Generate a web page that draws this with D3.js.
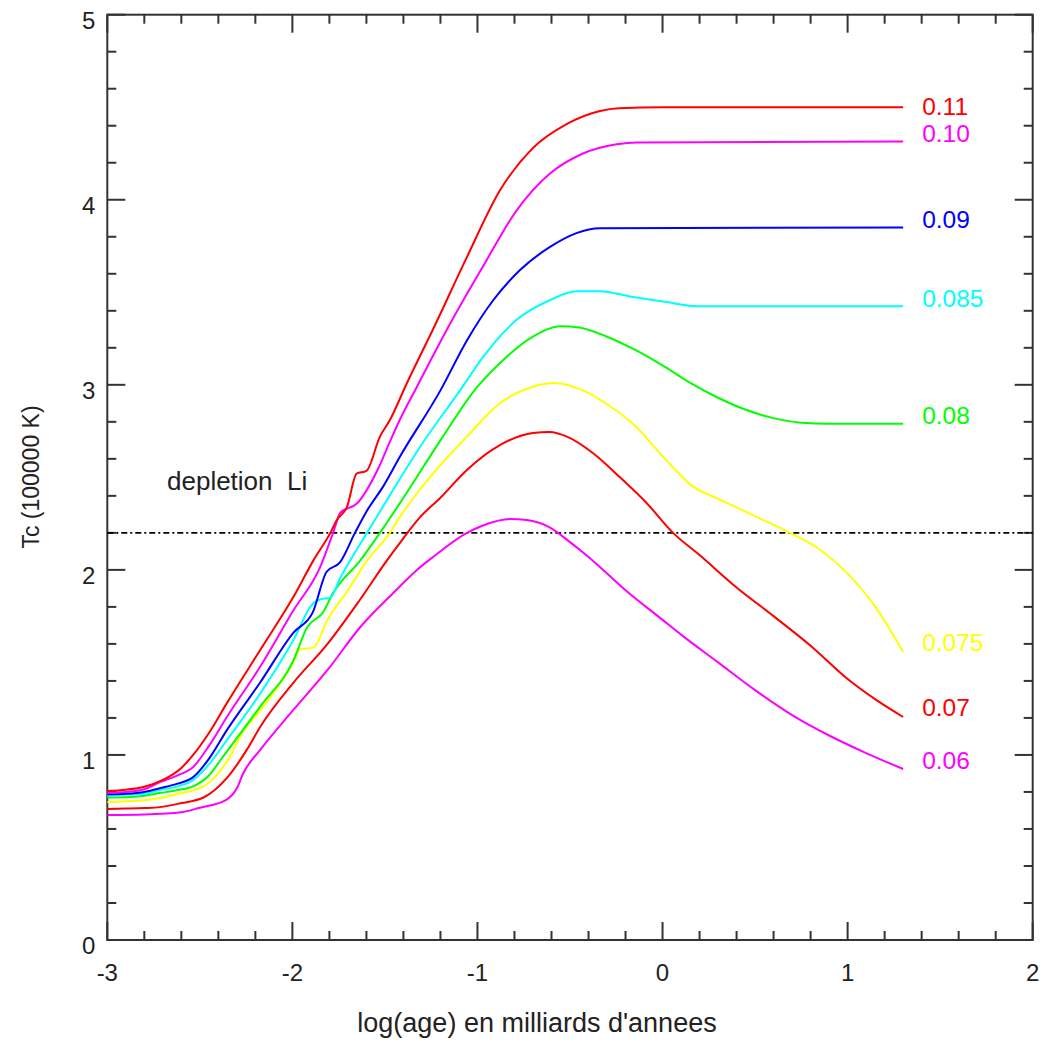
<!DOCTYPE html>
<html><head><meta charset="utf-8">
<script src="https://cdn.jsdelivr.net/npm/d3@7"></script>
<style>
html,body{margin:0;padding:0;background:#fff;}
svg text{font-family:"Liberation Sans",Arial,Helvetica,sans-serif;}
</style></head>
<body>
<svg id="chart" width="1044" height="1043"></svg>
<script>
// ---- data ----
const masses = ["0.11","0.10","0.09","0.085","0.08","0.075","0.07","0.06"];
const seriesColors = ["#ff0000","#ff00ff","#0000ff","#00ffff","#00ff00","#ffff00","#ff0000","#ff00ff"];
const xTickValues = [-3,-2,-1,0,1,2];
const yTickValues = [0,1,2,3,4,5];
const depletionLevel = 2.2;
const labelY = [4.505,4.36,3.895,3.468,2.836,1.61,1.259,0.972];

const m011 = [[-3,0.805],[-2.9,0.812],[-2.8,0.828],[-2.7,0.865],[-2.6,0.93],[-2.536,1.0],[-2.45,1.12],[-2.354,1.28],[-2.174,1.567],[-1.995,1.853],[-1.887,2.05],[-1.795,2.2],[-1.76,2.27],[-1.705,2.34],[-1.653,2.52],[-1.60,2.535],[-1.527,2.72],[-1.473,2.81],[-1.381,3.01],[-1.24,3.30],[-1.057,3.69],[-0.879,4.05],[-0.70,4.28],[-0.516,4.41],[-0.338,4.48],[-0.236,4.495],[0,4.50],[1.3,4.50]];
const m010 = [[-3,0.795],[-2.9,0.80],[-2.8,0.815],[-2.716,0.853],[-2.62,0.89],[-2.536,0.935],[-2.45,1.05],[-2.354,1.205],[-2.175,1.475],[-1.995,1.78],[-1.85,2.015],[-1.78,2.2],[-1.74,2.31],[-1.65,2.36],[-1.54,2.54],[-1.47,2.70],[-1.42,2.81],[-1.327,2.99],[-1.148,3.33],[-0.97,3.64],[-0.79,3.94],[-0.61,4.14],[-0.43,4.25],[-0.247,4.30],[-0.14,4.31],[1.3,4.315]];
const m009 = [[-3,0.787],[-2.9,0.79],[-2.8,0.80],[-2.716,0.82],[-2.62,0.845],[-2.536,0.88],[-2.45,0.98],[-2.354,1.134],[-2.175,1.39],[-1.995,1.66],[-1.89,1.77],[-1.815,1.99],[-1.743,2.04],[-1.662,2.2],[-1.597,2.32],[-1.51,2.45],[-1.42,2.61],[-1.2,2.97],[-1.057,3.24],[-0.915,3.457],[-0.77,3.62],[-0.61,3.744],[-0.465,3.82],[-0.34,3.846],[1.3,3.85]];
const m0085 = [[-3,0.78],[-2.9,0.785],[-2.8,0.79],[-2.716,0.81],[-2.62,0.83],[-2.536,0.864],[-2.45,0.95],[-2.354,1.08],[-2.175,1.33],[-1.995,1.62],[-1.887,1.82],[-1.85,1.84],[-1.795,1.85],[-1.74,1.96],[-1.688,2.05],[-1.597,2.2],[-1.445,2.45],[-1.30,2.68],[-1.094,2.97],[-0.97,3.15],[-0.79,3.35],[-0.61,3.457],[-0.465,3.506],[-0.34,3.506],[-0.16,3.474],[0.02,3.447],[0.185,3.425],[1.3,3.425]];
const m008 = [[-3,0.77],[-2.9,0.772],[-2.8,0.78],[-2.716,0.794],[-2.62,0.81],[-2.536,0.83],[-2.45,0.89],[-2.39,0.97],[-2.175,1.26],[-1.995,1.51],[-1.92,1.69],[-1.835,1.77],[-1.78,1.875],[-1.634,2.05],[-1.527,2.2],[-1.40,2.39],[-1.20,2.70],[-1.0,2.99],[-0.879,3.117],[-0.70,3.26],[-0.55,3.317],[-0.45,3.31],[-0.3,3.26],[-0.15,3.19],[0,3.105],[0.15,3.01],[0.3,2.93],[0.45,2.865],[0.6,2.82],[0.75,2.795],[0.9,2.79],[1.3,2.79]];
const m0075 = [[-3,0.745],[-2.9,0.75],[-2.8,0.755],[-2.716,0.767],[-2.62,0.79],[-2.48,0.83],[-2.35,0.97],[-2.27,1.12],[-2.175,1.24],[-1.995,1.50],[-1.96,1.57],[-1.887,1.58],[-1.81,1.73],[-1.70,1.89],[-1.597,2.05],[-1.473,2.2],[-1.42,2.285],[-1.24,2.52],[-1.057,2.72],[-0.879,2.90],[-0.70,2.99],[-0.59,3.01],[-0.43,2.97],[-0.3,2.895],[-0.15,2.78],[0,2.615],[0.165,2.45],[0.31,2.38],[0.5,2.29],[0.69,2.20],[0.85,2.11],[1.0,1.98],[1.15,1.80],[1.3,1.556]];
const m007 = [[-3,0.708],[-2.9,0.71],[-2.8,0.713],[-2.716,0.718],[-2.6,0.74],[-2.48,0.77],[-2.35,0.88],[-2.245,1.03],[-2.175,1.15],[-1.995,1.39],[-1.81,1.60],[-1.634,1.84],[-1.49,2.05],[-1.42,2.145],[-1.31,2.285],[-1.20,2.39],[-1.057,2.54],[-0.879,2.674],[-0.70,2.74],[-0.61,2.745],[-0.516,2.72],[-0.375,2.63],[-0.23,2.50],[-0.085,2.36],[0.057,2.20],[0.2,2.08],[0.4,1.905],[0.6,1.75],[0.8,1.59],[1.0,1.41],[1.15,1.30],[1.3,1.205]];
const m006 = [[-3,0.675],[-2.8,0.678],[-2.6,0.69],[-2.5,0.715],[-2.36,0.756],[-2.30,0.82],[-2.266,0.90],[-2.175,1.026],[-1.995,1.243],[-1.81,1.459],[-1.634,1.69],[-1.455,1.875],[-1.327,2.0],[-1.24,2.07],[-1.057,2.2],[-0.97,2.24],[-0.824,2.275],[-0.733,2.27],[-0.61,2.23],[-0.5,2.15],[-0.4,2.07],[-0.2,1.89],[0,1.73],[0.1,1.65],[0.3,1.50],[0.5,1.35],[0.7,1.215],[0.9,1.105],[1.1,1.01],[1.3,0.924]];
const allSeries = [m011,m010,m009,m0085,m008,m0075,m007,m006];

// ---- layout ----
const svg = d3.select("#chart");
const L = 107.3, R = 1032.7, T = 14.7, B = 940;
const x = d3.scaleLinear().domain([-3,2]).range([L,R]);
const y = d3.scaleLinear().domain([0,5]).range([B,T]);
const axisColor = "#333";

const minorX = d3.range(-3,2.0001,0.2).map(v=>+v.toFixed(1));
const minorY = d3.range(0,5.0001,0.2).map(v=>+v.toFixed(1));
function isMajor(v){return Math.abs(v-Math.round(v))<1e-6;}

const g = svg.append("g");
g.append("rect").attr("x",L).attr("y",T).attr("width",R-L).attr("height",B-T)
  .attr("fill","none").attr("stroke",axisColor).attr("stroke-width",2);

const tk = g.append("g").attr("stroke",axisColor).attr("stroke-width",2);
minorX.forEach(v=>{
  const len = isMajor(v)?18:9;
  tk.append("line").attr("x1",x(v)).attr("x2",x(v)).attr("y1",B).attr("y2",B-len);
  tk.append("line").attr("x1",x(v)).attr("x2",x(v)).attr("y1",T).attr("y2",T+len);
});
minorY.forEach(v=>{
  const len = isMajor(v)?18:9;
  tk.append("line").attr("y1",y(v)).attr("y2",y(v)).attr("x1",L).attr("x2",L+len);
  tk.append("line").attr("y1",y(v)).attr("y2",y(v)).attr("x1",R).attr("x2",R-len);
});

// tick labels
const tickFont = 24;
g.selectAll(".xl").data(xTickValues).join("text")
  .attr("x",d=>x(d)).attr("y",B+41).attr("text-anchor","middle")
  .attr("font-size",tickFont).attr("fill","#222").text(d=>d);
g.selectAll(".yl").data(yTickValues).join("text")
  .attr("x",L-12).attr("y",d=>y(d)+14).attr("text-anchor","end")
  .attr("font-size",tickFont).attr("fill","#222").text(d=>d);

// axis titles
svg.append("text").attr("x",537).attr("y",1032).attr("text-anchor","middle")
  .attr("font-size",27).attr("fill","#222").text("log(age) en milliards d'annees");
svg.append("text").attr("transform","translate(39,477) rotate(-90)").attr("text-anchor","middle")
  .attr("font-size",23).attr("fill","#222").text("Tc (100000 K)");

// depletion line
svg.append("line").attr("x1",x(-3)).attr("x2",x(2)).attr("y1",y(depletionLevel)).attr("y2",y(depletionLevel))
  .attr("stroke","#000").attr("stroke-width",1.6).attr("stroke-dasharray","6,3,2,3");
svg.append("text").attr("x",167).attr("y",y(depletionLevel)-43).attr("font-size",26)
  .attr("fill","#222").style("white-space","pre").text("depletion  Li");

// curves
const line = d3.line().x(d=>x(d[0])).y(d=>y(d[1])).curve(d3.curveMonotoneX);
const cg = svg.append("g");
allSeries.slice().reverse().forEach((s,i)=>{
  const idx = allSeries.length-1-i;
  cg.append("path").attr("d",line(s)).attr("fill","none")
    .attr("stroke",seriesColors[idx]).attr("stroke-width",2);
});

// series labels
svg.selectAll(".sl").data(masses).join("text")
  .attr("x",x(1.3)+19).attr("y",(d,i)=>y(labelY[i])).attr("dy","0.36em")
  .attr("font-size",24.5).attr("fill",(d,i)=>seriesColors[i]).text(d=>d);
</script>
</body></html>
